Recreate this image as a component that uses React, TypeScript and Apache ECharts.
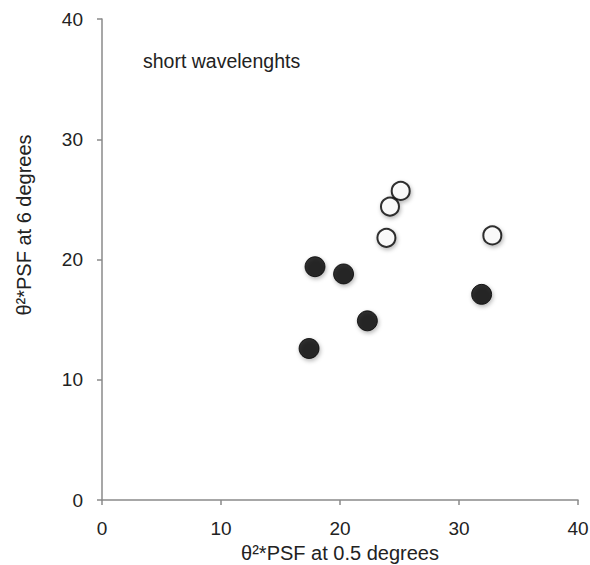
import React, { useEffect, useRef } from "react";
import * as echarts from "echarts";

const filledPoints: [number, number][] = [
  [17.9, 19.4],
  [20.3, 18.8],
  [22.3, 14.9],
  [17.4, 12.6],
  [31.9, 17.1],
];
const openPoints: [number, number][] = [
  [25.1, 25.7],
  [24.2, 24.4],
  [23.9, 21.8],
  [32.8, 22.0],
];
const xTicks = [0, 10, 20, 30, 40];
const yTicks = [0, 10, 20, 30, 40];
const xName = "θ²*PSF at 0.5 degrees";
const yName = "θ²*PSF at 6 degrees";
const annotation = "short wavelenghts";

export default function App() {
  const ref = useRef<HTMLDivElement>(null);
  useEffect(() => {
    if (!ref.current) return;
    const chart = echarts.init(ref.current, null, { renderer: "svg" });
    const font = "Liberation Sans, Arial, sans-serif";
    const axisCommon = {
      min: 0,
      max: 40,
      interval: 10,
      axisLine: { show: true, lineStyle: { color: "#8a8a8a", width: 1.5 } },
      axisTick: { show: true, length: 5, lineStyle: { color: "#8a8a8a", width: 1.5 } },
      splitLine: { show: false },
      axisLabel: { color: "#222", fontSize: 19, fontFamily: font },
      nameLocation: "middle" as const,
      nameTextStyle: { color: "#222", fontSize: 20, fontFamily: font },
    };
    chart.setOption({
      animation: false,
      backgroundColor: "#fff",
      grid: {
        left: 102,
        right: 12,
        top: 19,
        bottom: 65,
        containLabel: false,
        outerBoundsMode: "none",
      },
      xAxis: {
        ...axisCommon,
        type: "value",
        name: xName,
        nameGap: 42,
        axisLabel: { ...axisCommon.axisLabel, margin: 19, formatter: (v: number) => (xTicks.includes(v) ? String(v) : "") },
      },
      yAxis: {
        ...axisCommon,
        type: "value",
        name: "",
        axisLabel: { ...axisCommon.axisLabel, margin: 19, formatter: (v: number) => (yTicks.includes(v) ? String(v) : "") },
      },
      graphic: [
        {
          type: "text",
          left: 143,
          top: 51,
          style: { text: annotation, fill: "#222", fontSize: 19.5, fontFamily: font },
        },
        {
          type: "text",
          x: 24,
          y: 225,
          rotation: Math.PI / 2,
          style: {
            text: yName,
            fill: "#222",
            fontSize: 20,
            fontFamily: font,
            align: "center",
            verticalAlign: "middle",
          },
        },
      ],
      series: [
        {
          type: "scatter",
          data: filledPoints,
          symbol: "circle",
          symbolSize: 20,
          itemStyle: {
            color: "#000",
            borderColor: "#000",
            borderWidth: 1,
            shadowBlur: 4,
            shadowOffsetX: 1,
            shadowOffsetY: 2,
            shadowColor: "rgba(0,0,0,0.35)",
          },
        },
        {
          type: "scatter",
          data: openPoints,
          symbol: "circle",
          symbolSize: 18,
          itemStyle: {
            color: "#fff",
            borderColor: "#000",
            borderWidth: 2,
            shadowBlur: 4,
            shadowOffsetX: 1,
            shadowOffsetY: 2,
            shadowColor: "rgba(0,0,0,0.35)",
          },
        },
      ],
    });
    return () => chart.dispose();
  }, []);
  return (
    <div
      ref={ref}
      style={{ position: "absolute", left: 0, top: 0, width: 590, height: 565 }}
    />
  );
}
